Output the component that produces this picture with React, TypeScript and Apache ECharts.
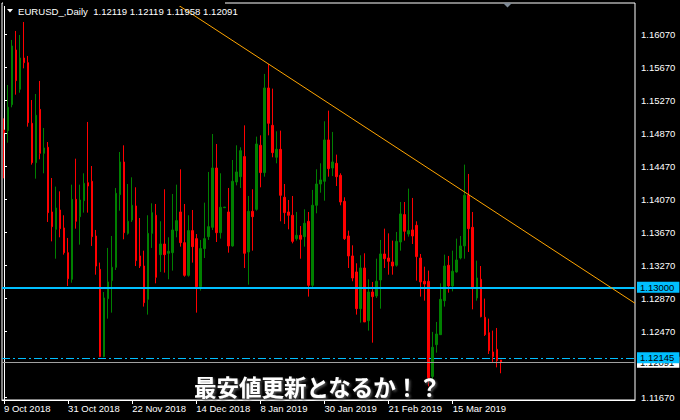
import React, { useEffect, useRef } from "react";
import * as echarts from "echarts";

const symbolTitle = "EURUSD_,Daily";
const lastQuote = [1.12119, 1.12119, 1.11958, 1.12091]; // O H L C of the last bar
const overlayText = "最安値更新となるか！？";

const startDate = [2018, 9, 9]; // 9 Oct 2018 (UTC, month 0-based)
const skippedDays = ["2019-01-01"];
const shiftSlots = 33; // empty space to the right (chart shift)
const labelEvery = 16;

const opens = [
  1.14907, 1.14899, 1.15214, 1.15876, 1.154, 1.15779, 1.15723, 1.14988, 1.14511, 1.15157,
  1.14624, 1.14697, 1.13913, 1.13703, 1.13937, 1.13719, 1.1342, 1.13097, 1.14066, 1.13856,
  1.1405, 1.14268, 1.14285, 1.13622, 1.13218, 1.1216, 1.12863, 1.13081, 1.13242, 1.14123,
  1.14519, 1.13654, 1.13816, 1.13986, 1.1338, 1.13258, 1.12854, 1.13654, 1.13873, 1.13396,
  1.13525, 1.13412, 1.1342, 1.13687, 1.13913, 1.13541, 1.13145, 1.13687, 1.1359, 1.13008,
  1.13469, 1.13614, 1.13727, 1.14446, 1.13662, 1.13965, 1.13913, 1.13501, 1.14277, 1.14341,
  1.14584, 1.13428, 1.13921, 1.13945, 1.14721, 1.1439, 1.15416, 1.14963, 1.14576, 1.14672,
  1.14091, 1.13913, 1.13873, 1.1359, 1.1363, 1.13614, 1.138, 1.13024, 1.13994, 1.14252,
  1.14285, 1.14786, 1.14446, 1.14503, 1.14357, 1.14042, 1.13622, 1.1338, 1.13186, 1.12741,
  1.13234, 1.12596, 1.12943, 1.12895, 1.13089, 1.13404, 1.13355, 1.13307, 1.13267, 1.13549,
  1.13881, 1.13646, 1.13695, 1.13751, 1.13355, 1.13073, 1.13073, 1.1192, 1.12305, 1.12426,
  1.12838, 1.13267, 1.13016, 1.13186, 1.13355, 1.13501, 1.14115, 1.13727, 1.12871, 1.13097,
  1.12636, 1.1245, 1.12216, 1.12248, 1.12119,
];

const highs = [
  1.15048, 1.15452, 1.15998, 1.16107, 1.16058, 1.16216, 1.15804, 1.1527, 1.15343, 1.15501,
  1.14931, 1.14761, 1.14325, 1.1422, 1.14163, 1.13873, 1.13598, 1.14244, 1.14559, 1.14244,
  1.14382, 1.15004, 1.1447, 1.13695, 1.13299, 1.12943, 1.13477, 1.13622, 1.14204, 1.1464,
  1.14721, 1.14252, 1.14333, 1.14212, 1.1384, 1.13444, 1.13873, 1.14018, 1.1401, 1.138,
  1.14188, 1.13606, 1.14131, 1.14244, 1.1443, 1.1401, 1.13873, 1.13937, 1.13646, 1.13574,
  1.14026, 1.14398, 1.14858, 1.14737, 1.14382, 1.13974, 1.14204, 1.14543, 1.14721, 1.14697,
  1.14963, 1.14107, 1.14188, 1.14826, 1.14842, 1.15586, 1.15707, 1.15408, 1.14891, 1.14899,
  1.14252, 1.14058, 1.14107, 1.13913, 1.13743, 1.13945, 1.13913, 1.1418, 1.1443, 1.14503,
  1.15012, 1.15141, 1.14883, 1.14608, 1.14382, 1.14091, 1.13687, 1.13509, 1.13291, 1.13388,
  1.13412, 1.13097, 1.13065, 1.13347, 1.13574, 1.13711, 1.13654, 1.13566, 1.13671, 1.14034,
  1.14034, 1.14196, 1.14083, 1.138, 1.13404, 1.1325, 1.13202, 1.12459, 1.1258, 1.13048,
  1.13396, 1.1338, 1.13444, 1.1359, 1.13622, 1.14487, 1.14374, 1.13913, 1.13323, 1.13258,
  1.12863, 1.1262, 1.12475, 1.12507, 1.12119,
];

const lows = [
  1.14321, 1.14753, 1.15182, 1.15335, 1.15359, 1.15654, 1.14947, 1.14487, 1.14317, 1.14551,
  1.14382, 1.13792, 1.13557, 1.13347, 1.13606, 1.13396, 1.13016, 1.13056, 1.13711, 1.13517,
  1.13905, 1.13905, 1.13501, 1.13153, 1.12152, 1.12152, 1.1262, 1.12693, 1.1321, 1.13929,
  1.13582, 1.13638, 1.13792, 1.13258, 1.13234, 1.12766, 1.12669, 1.13477, 1.13048, 1.13186,
  1.13178, 1.13097, 1.13202, 1.13606, 1.13493, 1.13129, 1.13129, 1.13299, 1.12693, 1.1296,
  1.13355, 1.13574, 1.13695, 1.13549, 1.1359, 1.13961, 1.1342, 1.13493, 1.14236, 1.14204,
  1.13234, 1.13032, 1.13444, 1.13929, 1.14212, 1.14341, 1.14842, 1.14576, 1.14503, 1.138,
  1.13768, 1.13703, 1.13533, 1.13566, 1.13347, 1.13493, 1.12887, 1.12984, 1.13897, 1.14147,
  1.1405, 1.14341, 1.14349, 1.14228, 1.13994, 1.13574, 1.13234, 1.13073, 1.12669, 1.12572,
  1.1258, 1.12475, 1.12329, 1.12871, 1.12741, 1.13234, 1.13153, 1.13153, 1.1325, 1.13444,
  1.13566, 1.13614, 1.13525, 1.13081, 1.12887, 1.12838, 1.118, 1.1185, 1.12208, 1.12426,
  1.12766, 1.12935, 1.12951, 1.13178, 1.13339, 1.13347, 1.13428, 1.12733, 1.12838, 1.12636,
  1.1241, 1.12192, 1.12095, 1.1203, 1.11958,
];

const closes = [
  1.14874, 1.15182, 1.15925, 1.15505, 1.15779, 1.15723, 1.14996, 1.14511, 1.15085, 1.14624,
  1.14689, 1.13905, 1.13735, 1.13961, 1.13711, 1.1342, 1.13105, 1.14066, 1.138, 1.14058,
  1.1426, 1.14228, 1.13614, 1.13258, 1.1216, 1.12871, 1.13065, 1.13242, 1.14139, 1.14519,
  1.13662, 1.138, 1.13994, 1.13323, 1.13258, 1.12814, 1.13654, 1.13905, 1.13121, 1.13525,
  1.13396, 1.13436, 1.13695, 1.13808, 1.13541, 1.13145, 1.13687, 1.13493, 1.13008, 1.13469,
  1.1359, 1.13735, 1.14446, 1.13662, 1.1397, 1.13972, 1.13501, 1.14285, 1.14398, 1.14656,
  1.13412, 1.13921, 1.13856, 1.14737, 1.1439, 1.15416, 1.14988, 1.14632, 1.14672, 1.14115,
  1.13905, 1.13873, 1.13557, 1.1363, 1.13582, 1.13776, 1.13024, 1.13994, 1.14252, 1.14301,
  1.14786, 1.14438, 1.14519, 1.14341, 1.14034, 1.1359, 1.1338, 1.13113, 1.12741, 1.13234,
  1.1258, 1.12943, 1.12887, 1.13073, 1.13404, 1.13347, 1.13315, 1.13258, 1.13557, 1.13889,
  1.13679, 1.13687, 1.13622, 1.13372, 1.13065, 1.1304, 1.11905, 1.12273, 1.12434, 1.12854,
  1.13258, 1.13016, 1.13194, 1.13331, 1.13501, 1.14115, 1.13711, 1.12984, 1.13113, 1.12644,
  1.12426, 1.12232, 1.1216, 1.12111, 1.12091,
];

const priceTicks = [
  1.1607, 1.1567, 1.1527, 1.1487, 1.1447, 1.1407, 1.1367, 1.1327, 1.1287, 1.1247, 1.1167,
];
const yMin = 1.11634;
const yMax = 1.16446;

const resistanceLevel = 1.13;
const supportLevel = 1.12145;
const bidLevel = 1.12091;
const trendAnchors: [number, number][] = [
  [66, 1.15707],
  [116, 1.14122],
];

const MONTHS = ["Jan", "Feb", "Mar", "Apr", "May", "Jun", "Jul", "Aug", "Sep", "Oct", "Nov", "Dec"];
const FONT = "'Liberation Sans', Arial, sans-serif";

function buildDates(n: number): string[] {
  const out: string[] = [];
  let t = Date.UTC(startDate[0], startDate[1], startDate[2]);
  while (out.length < n) {
    const d = new Date(t);
    const iso = d.toISOString().slice(0, 10);
    const dow = d.getUTCDay();
    if (dow !== 0 && dow !== 6 && !skippedDays.includes(iso)) out.push(iso);
    t += 86400000;
  }
  return out;
}

function fmtDate(iso: string): string {
  const [y, m, d] = iso.split("-").map(Number);
  return `${d} ${MONTHS[m - 1]} ${y}`;
}

export default function App() {
  const ref = useRef<HTMLDivElement>(null);

  useEffect(() => {
    if (!ref.current) return;
    const chart = echarts.init(ref.current, undefined, { renderer: "svg" });
    const barCount = opens.length;
    const dates = buildDates(barCount);
    const totalSlots = barCount + shiftSlots;
    const categories = dates.concat(Array.from({ length: shiftSlots }, (_, k) => `_${k}`));
    const candleData = opens.map((o, i) => [o, closes[i], lows[i], highs[i]]);

    const [[i1, p1], [i2, p2]] = trendAnchors;
    const slope = (p2 - p1) / (i2 - i1);
    const xa = -0.5;
    const xb = totalSlots - 0.5;
    const trendData = [
      [xa, p1 + slope * (xa - i1)],
      [xb, p1 + slope * (xb - i1)],
    ];

    const showIdx = (index: number) => index % labelEvery === 0 && index < barCount;

    const lblBase = {
      show: true,
      position: "end",
      distance: 2,
      color: "#000",
      fontSize: 9.5,
      fontFamily: FONT,
      padding: [1, 5, 1, 3],
      lineHeight: 9,
    };

    chart.setOption({
      animation: false,
      backgroundColor: "#000",
      grid: {
        left: 2,
        right: 45,
        top: 3,
        bottom: 20,
        show: true,
        borderColor: "#fff",
        borderWidth: 1,
        containLabel: false,
        outerBoundsMode: "none",
      },
      xAxis: [
        {
          type: "category",
          data: categories,
          boundaryGap: true,
          axisLine: { show: true, lineStyle: { color: "#fff", width: 1 } },
          axisTick: {
            show: true,
            alignWithLabel: true,
            interval: showIdx,
            length: 4,
            lineStyle: { color: "#fff" },
          },
          axisLabel: {
            interval: showIdx,
            align: "left",
            color: "#fff",
            fontSize: 9.5,
            fontFamily: FONT,
            margin: 3,
            formatter: (v: string) => (v.startsWith("_") ? "" : fmtDate(v)),
          },
          splitLine: { show: false },
        },
        {
          type: "value",
          min: -0.5,
          max: totalSlots - 0.5,
          show: false,
          splitLine: { show: false },
        },
      ],
      yAxis: {
        type: "value",
        position: "right",
        min: yMin,
        max: yMax,
        splitLine: { show: false },
        axisLine: { show: true, lineStyle: { color: "#fff", width: 1 } },
        axisTick: {
          show: true,
          length: 3,
          lineStyle: { color: "#fff" },
          customValues: priceTicks,
        },
        axisLabel: {
          customValues: priceTicks,
          formatter: (v: number) => v.toFixed(5),
          color: "#fff",
          fontSize: 9.5,
          fontFamily: FONT,
          margin: 6,
        },
      },
      series: [
        {
          type: "candlestick",
          data: candleData,
          barWidth: 2,
          itemStyle: {
            color: "#008000",
            color0: "#ff0000",
            borderColor: "#008000",
            borderColor0: "#ff0000",
            borderWidth: 1,
          },
          silent: true,
          markLine: {
            symbol: ["none", "none"],
            silent: true,
            precision: 5,
            animation: false,
            emphasis: { disabled: true },
            label: lblBase,
            data: [
              {
                yAxis: bidLevel,
                lineStyle: { color: "#a0a0a0", width: 1, type: "solid" },
                label: { ...lblBase, formatter: bidLevel.toFixed(5), backgroundColor: "#fff" },
              },
              {
                yAxis: resistanceLevel,
                lineStyle: { color: "#00bfff", width: 2, type: "solid" },
                label: { ...lblBase, formatter: resistanceLevel.toFixed(5), backgroundColor: "#00bfff" },
              },
              {
                yAxis: supportLevel,
                lineStyle: { color: "#00bfff", width: 1, type: [8, 3, 2, 3] },
                label: { ...lblBase, formatter: supportLevel.toFixed(5), backgroundColor: "#00bfff" },
              },
            ],
          },
        },
        {
          type: "line",
          xAxisIndex: 1,
          yAxisIndex: 0,
          data: trendData,
          symbol: "none",
          clip: true,
          silent: true,
          z: 5,
          lineStyle: { color: "#ffa500", width: 1 },
        },
      ],
      graphic: [
        {
          type: "rect",
          z: 100,
          shape: { x: 3, y: 0, width: 222, height: 6 },
          style: { fill: "#000" },
        },
        {
          type: "polygon",
          z: 101,
          shape: { points: [[7, 9], [13, 9], [10, 12.5]] },
          style: { fill: "#fff" },
        },
        {
          type: "text",
          z: 101,
          x: 18,
          y: 11,
          style: {
            text: `${symbolTitle}  ${lastQuote.map((v) => v.toFixed(5)).join(" ")}`,
            fill: "#fff",
            fontSize: 9.6,
            fontFamily: FONT,
            verticalAlign: "middle",
            align: "left",
          },
        },
        {
          type: "polygon",
          z: 101,
          shape: { points: [[503, 3], [512, 3], [507.5, 7.5]] },
          style: { fill: "#7f8a96" },
        },
        {
          type: "text",
          z: 102,
          x: 194,
          y: 386,
          style: {
            text: overlayText,
            fill: "#fff",
            fontSize: 22.5,
            fontWeight: "bold",
            fontFamily: "'Noto Sans CJK JP', sans-serif",
            verticalAlign: "middle",
            align: "left",
            textShadowColor: "rgba(90,90,90,0.95)",
            textShadowBlur: 2,
            textShadowOffsetX: 1.5,
            textShadowOffsetY: 1.5,
          },
        },
      ],
    });

    return () => chart.dispose();
  }, []);

  return (
    <div
      ref={ref}
      style={{ position: "fixed", left: 0, top: 0, width: 680, height: 420, background: "#000" }}
    />
  );
}
